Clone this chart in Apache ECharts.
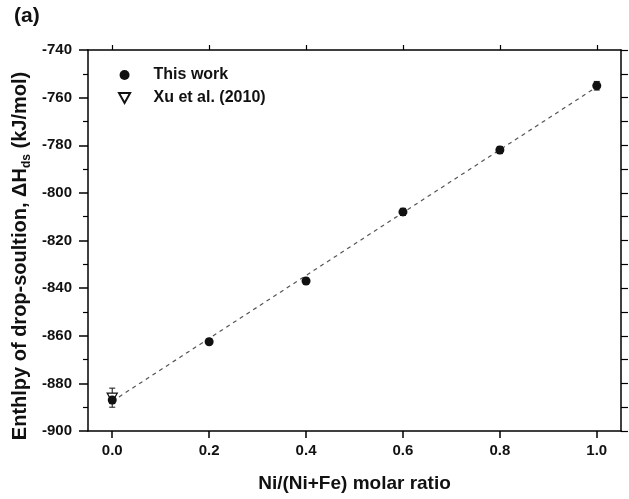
<!DOCTYPE html>
<html>
<head>
<meta charset="utf-8">
<script src="https://cdn.jsdelivr.net/npm/echarts@6/dist/echarts.min.js"></script>
<style>
  html, body { margin: 0; padding: 0; background: #fff; }
  #chart { width: 629px; height: 499px; }
</style>
</head>
<body>
<div id="chart"></div>
<script>
// data
var ratio = [0.0, 0.2, 0.4, 0.6, 0.8, 1.0];
var thisWork = [-887, -862.5, -837, -808, -782, -755];
var thisWorkErr = [1.5, 1.2, 1.2, 1.5, 1.5, 1.8];
var xuRatio = [0.0];
var xu = [-886];
var xuErr = [4];
var fitX = [0.0, 1.0];
var fitY = [-887.5, -755.5];
var xTicks = [0.0, 0.2, 0.4, 0.6, 0.8, 1.0];

var font = "'Liberation Sans', Arial, sans-serif";
var ink = "#111";

function pairs(xs, ys) {
  return xs.map(function (x, i) { return [x, ys[i]]; });
}

function errData(xs, ys, es) {
  return xs.map(function (x, i) { return [x, ys[i], es[i]]; });
}

// vertical error bar with caps
function renderErr(params, api) {
  var x = api.value(0), y = api.value(1), e = api.value(2);
  var hi = api.coord([x, y + e]);
  var lo = api.coord([x, y - e]);
  var w = 3;
  var st = { stroke: ink, lineWidth: 1 };
  return {
    type: "group",
    children: [
      { type: "line", shape: { x1: hi[0], y1: hi[1], x2: lo[0], y2: lo[1] }, style: st },
      { type: "line", shape: { x1: hi[0] - w, y1: hi[1], x2: hi[0] + w, y2: hi[1] }, style: st },
      { type: "line", shape: { x1: lo[0] - w, y1: lo[1], x2: lo[0] + w, y2: lo[1] }, style: st }
    ]
  };
}

var chart = echarts.init(document.getElementById("chart"));

var axisLine = { show: true, onZero: false, lineStyle: { color: "#000", width: 1.5 } };

chart.setOption({
  backgroundColor: "#fff",
  animation: false,
  grid: { left: 88, right: 8, top: 50, bottom: 68, containLabel: false },
  legend: {
    orient: "vertical",
    left: 113,
    top: 62,
    itemWidth: 20,
    itemHeight: 10,
    itemGap: 7,
    textStyle: { fontFamily: font, fontWeight: "bold", fontSize: 16, color: ink, lineHeight: 16, padding: [0, 0, 0, 14] },
    data: ["This work", "Xu et al. (2010)"]
  },
  graphic: [
    {
      type: "text", left: 14, top: 6,
      style: { text: "(a)", font: "bold 21px " + font, fill: ink }
    },
    {
      type: "text", x: 20, y: 256, rotation: Math.PI / 2,
      style: {
        text: "{a|Enthlpy of drop-soultion, \u0394H}{b|ds}{a| (kJ/mol)}",
        align: "center", verticalAlign: "middle",
        rich: {
          a: { fontFamily: font, fontWeight: "bold", fontSize: 20, lineHeight: 26, fill: ink },
          b: { fontFamily: font, fontWeight: "bold", fontSize: 12, lineHeight: 26, verticalAlign: "bottom", fill: ink }
        }
      }
    }
  ],
  xAxis: [
    {
      type: "value", position: "bottom", min: -0.05, max: 1.05,
      axisLine: axisLine,
      axisTick: { show: true, inside: false, length: 7, customValues: xTicks, lineStyle: { color: "#000", width: 1.5 } },
      axisLabel: {
        customValues: xTicks, margin: 12,
        fontFamily: font, fontWeight: "bold", fontSize: 15, color: ink,
        formatter: function (v) { return v.toFixed(1); }
      },
      splitLine: { show: false },
      name: "Ni/(Ni+Fe) molar ratio", nameLocation: "middle", nameGap: 43,
      nameTextStyle: { fontFamily: font, fontWeight: "bold", fontSize: 19, color: ink }
    },
    {
      type: "value", position: "top", min: -0.05, max: 1.05,
      axisLine: axisLine,
      axisTick: { show: true, inside: false, length: 5, customValues: xTicks, lineStyle: { color: "#000", width: 1.2 } },
      axisLabel: { show: false },
      splitLine: { show: false }
    }
  ],
  yAxis: [
    {
      type: "value", position: "left", min: -900, max: -740, interval: 20,
      axisLine: axisLine,
      axisTick: { show: true, inside: false, length: 9, lineStyle: { color: "#000", width: 1.5 } },
      minorTick: { show: true, splitNumber: 2, length: 5, lineStyle: { color: "#000", width: 1.2 } },
      axisLabel: { margin: 16, fontFamily: font, fontWeight: "bold", fontSize: 15, color: ink },
      splitLine: { show: false },
      minorSplitLine: { show: false }
    },
    {
      type: "value", position: "right", min: -900, max: -740, interval: 20,
      axisLine: axisLine,
      axisTick: { show: true, inside: false, length: 7, lineStyle: { color: "#000", width: 1.2 } },
      minorTick: { show: true, splitNumber: 2, length: 7, lineStyle: { color: "#000", width: 1.2 } },
      axisLabel: { show: false },
      splitLine: { show: false },
      minorSplitLine: { show: false }
    }
  ],
  series: [
    {
      name: "fit", type: "line", data: pairs(fitX, fitY),
      symbol: "none", silent: true, z: 1,
      lineStyle: { color: "#555", width: 1.2, type: [4, 4] }
    },
    {
      name: "errThis", type: "custom", renderItem: renderErr, z: 2,
      data: errData(ratio, thisWork, thisWorkErr)
    },
    {
      name: "errXu", type: "custom", renderItem: renderErr, z: 2,
      data: errData(xuRatio, xu, xuErr)
    },
    {
      name: "Xu et al. (2010)", type: "scatter", data: pairs(xuRatio, xu), z: 3,
      symbol: "path://M0,0L10,0L5,9Z", symbolSize: [10, 9],
      itemStyle: { color: "#fff", borderColor: ink, borderWidth: 1.3, opacity: 1 }
    },
    {
      name: "This work", type: "scatter", data: pairs(ratio, thisWork), z: 4,
      symbol: "circle", symbolSize: 9,
      itemStyle: { color: ink, opacity: 1 }
    }
  ]
});
</script>
</body>
</html>
